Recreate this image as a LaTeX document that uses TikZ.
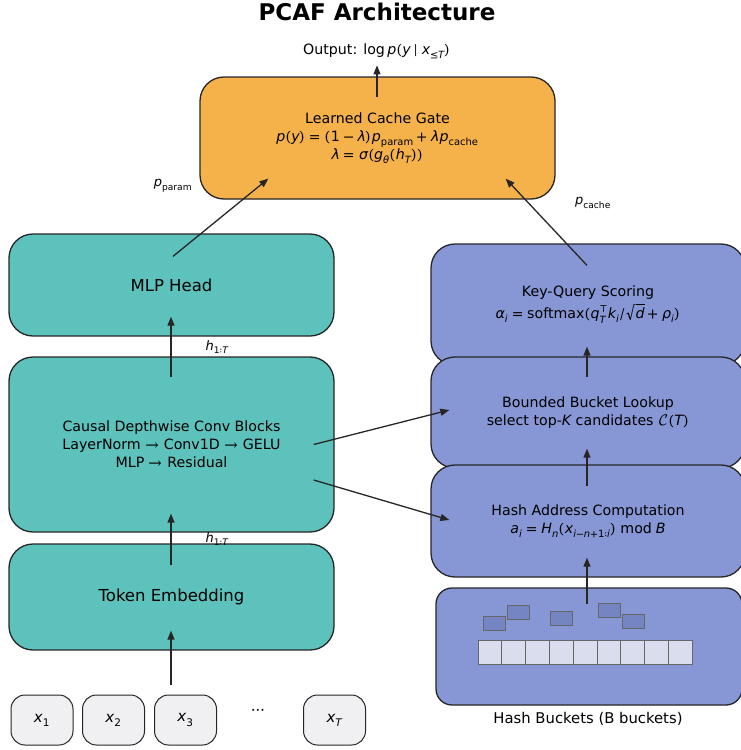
\documentclass[tikz,border=0pt]{standalone}
\usepackage{amsmath}
\usepackage{fontspec}
\usepackage{unicode-math}
\setmainfont{DejaVu Sans}
\setmathfont{DejaVu Math TeX Gyre}
\setmathfont[range=up]{DejaVu Sans}
\setmathfont[range=it->up]{DejaVu Sans Oblique}
\setoperatorfont\mathup
\usepackage{xcolor}
\usepackage{tikz}
\usetikzlibrary{arrows.meta,calc,positioning}
\definecolor{gateorange}{HTML}{F5B24B}
\definecolor{modelteal}{HTML}{5EC2BC}
\definecolor{cacheblue}{HTML}{8796D4}
\definecolor{celllight}{HTML}{D9DDEE}
\definecolor{celldark}{HTML}{7585C4}
\definecolor{tokengray}{HTML}{F0F0F2}
\definecolor{edgegray}{HTML}{262626}
\tikzset{
	block/.style={draw=edgegray,line width=1.3pt,rounded corners=24pt,align=center,font=\fontsize{14.2}{18}\selectfont},
	tokenbox/.style={draw=edgegray,line width=1pt,fill=tokengray,rounded corners=14pt,minimum width=62pt,minimum height=50pt,font=\fontsize{15}{17}\selectfont},
	arr/.style={-{Triangle[length=9pt,width=7pt]},line width=1.3pt,draw=edgegray},
	lbl/.style={font=\fontsize{13}{15}\selectfont},
	bucketcell/.style={draw=edgegray!70,line width=0.8pt,fill=celllight},
	bucketitem/.style={draw=edgegray!70,line width=0.8pt,fill=celldark}
}

\begin{document}
\begin{tikzpicture}[x=1pt,y=-1pt]
				\useasboundingbox (0,0) rectangle (740,750);
				\node[font=\fontsize{23}{26}\selectfont\bfseries] (title) at (377,12) {PCAF Architecture};
				\node[font=\fontsize{14.2}{16}\selectfont] (output) at (377,51) {Output: $\log p(y \mid x_{\le T})$};
				\node[block,fill=gateorange,minimum width=355pt,minimum height=122pt] (gate) at (377.5,138) {Learned Cache Gate\\$p(y)=(1-\lambda)p_{\text{param}}+\lambda p_{\text{cache}}$\\$\lambda=\sigma(g_\theta(h_T))$};
				\node[block,fill=modelteal,minimum width=325pt,minimum height=102pt,font=\fontsize{16.5}{19}\selectfont] (mlp) at (171.5,285) {MLP Head};
				\node[block,fill=modelteal,minimum width=325pt,minimum height=175pt] (conv) at (171.5,444.5) {Causal Depthwise Conv Blocks\\LayerNorm $\rightarrow$ Conv1D $\rightarrow$ GELU\\MLP $\rightarrow$ Residual};
				\node[block,fill=modelteal,minimum width=325pt,minimum height=106pt,font=\fontsize{16.5}{19}\selectfont] (embed) at (171.5,597) {Token Embedding};
				\node[block,fill=cacheblue,minimum width=314pt,minimum height=121pt,font=\fontsize{14.2}{22}\selectfont] (score) at (588,304.5) {Key-Query Scoring\\$\alpha_i=\text{softmax}(q_T^{\top}k_i/\sqrt{d}+\rho_i)$};
				\node[block,fill=cacheblue,minimum width=314pt,minimum height=111pt] (lookup) at (588,412.5) {Bounded Bucket Lookup\\select top-$K$ candidates $\mathcal{C}(T)$};
				\node[block,fill=cacheblue,minimum width=314pt,minimum height=112pt] (hash) at (588,521) {Hash Address Computation\\$a_i=H_n(x_{i-n+1:i})\bmod B$};
				\node[block,fill=cacheblue,minimum width=306pt,minimum height=117pt,rounded corners=16pt] (buckets) at (589,646.5) {};
				\node[font=\fontsize{14.8}{16}\selectfont] (bucketname) at (588,719) {Hash Buckets (B buckets)};
				\draw[bucketcell] (478,640) rectangle (501.8,664);
				\draw[bucketcell] (501.8,640) rectangle (525.6,664);
				\draw[bucketcell] (525.6,640) rectangle (549.4,664);
				\draw[bucketcell] (549.4,640) rectangle (573.2,664);
				\draw[bucketcell] (573.2,640) rectangle (597,664);
				\draw[bucketcell] (597,640) rectangle (620.8,664);
				\draw[bucketcell] (620.8,640) rectangle (644.6,664);
				\draw[bucketcell] (644.6,640) rectangle (668.4,664);
				\draw[bucketcell] (668.4,640) rectangle (692.2,664);
				\draw[bucketitem] (483,616) rectangle (505,630);
				\draw[bucketitem] (507,605) rectangle (529,619);
				\draw[bucketitem] (550,611) rectangle (572,625);
				\draw[bucketitem] (598,603) rectangle (620,617);
				\draw[bucketitem] (622,614) rectangle (644,628);
				\node[tokenbox] (x1) at (42,720) {$x_1$};
				\node[tokenbox] (x2) at (113.5,720) {$x_2$};
				\node[tokenbox] (x3) at (185.5,720) {$x_3$};
				\node[font=\fontsize{15}{17}\selectfont] (dots) at (258,712) {$\cdots$};
				\node[tokenbox] (xT) at (334.5,720) {$x_T$};
				\node[lbl] (pparam) at (173,186) {$p_{\text{param}}$};
				\node[lbl] (pcache) at (593,203) {$p_{\text{cache}}$};
				\node[lbl] (hmlp) at (217,347) {$h_{1:T}$};
				\node[lbl] (hconv) at (217,539) {$h_{1:T}$};
				\coordinate (tokensin) at ($(embed.south)+(-0.5,34)$);
				\draw[arr] ($(gate.north)+(-0.5,21)$) to ($(gate.north)+(-0.5,-11)$);
				\draw[arr] ($(mlp.north)+(1.5,23)$) to ($(gate.south west)+(69,-21)$);
				\draw[arr] ($(score.north)+(-1,22)$) to ($(gate.south east)+(-50,-21)$);
				\draw[arr] ($(conv.north)+(-0.5,21)$) to ($(mlp.south)+(-0.5,-20)$);
				\draw[arr] ($(embed.north)+(-0.5,22)$) to ($(conv.south)+(-0.5,-19)$);
				\draw[arr] (tokensin) to ($(embed.south)+(-0.5,-20)$);
				\draw[arr] ($(conv.east)+(-21,0)$) to ($(lookup.west)+(19,-2.5)$);
				\draw[arr] ($(conv.east)+(-21,35.5)$) to ($(hash.west)+(19,-1)$);
				\draw[arr] ($(hash.north)+(-1,22)$) to ($(lookup.south)+(-1,-20)$);
				\draw[arr] ($(lookup.north)+(-1,21)$) to ($(score.south)+(-1,-19)$);
				\draw[arr] ($(buckets.north)+(-2,17)$) to ($(hash.south)+(-1,-20)$);
	\end{tikzpicture}
\end{document}
